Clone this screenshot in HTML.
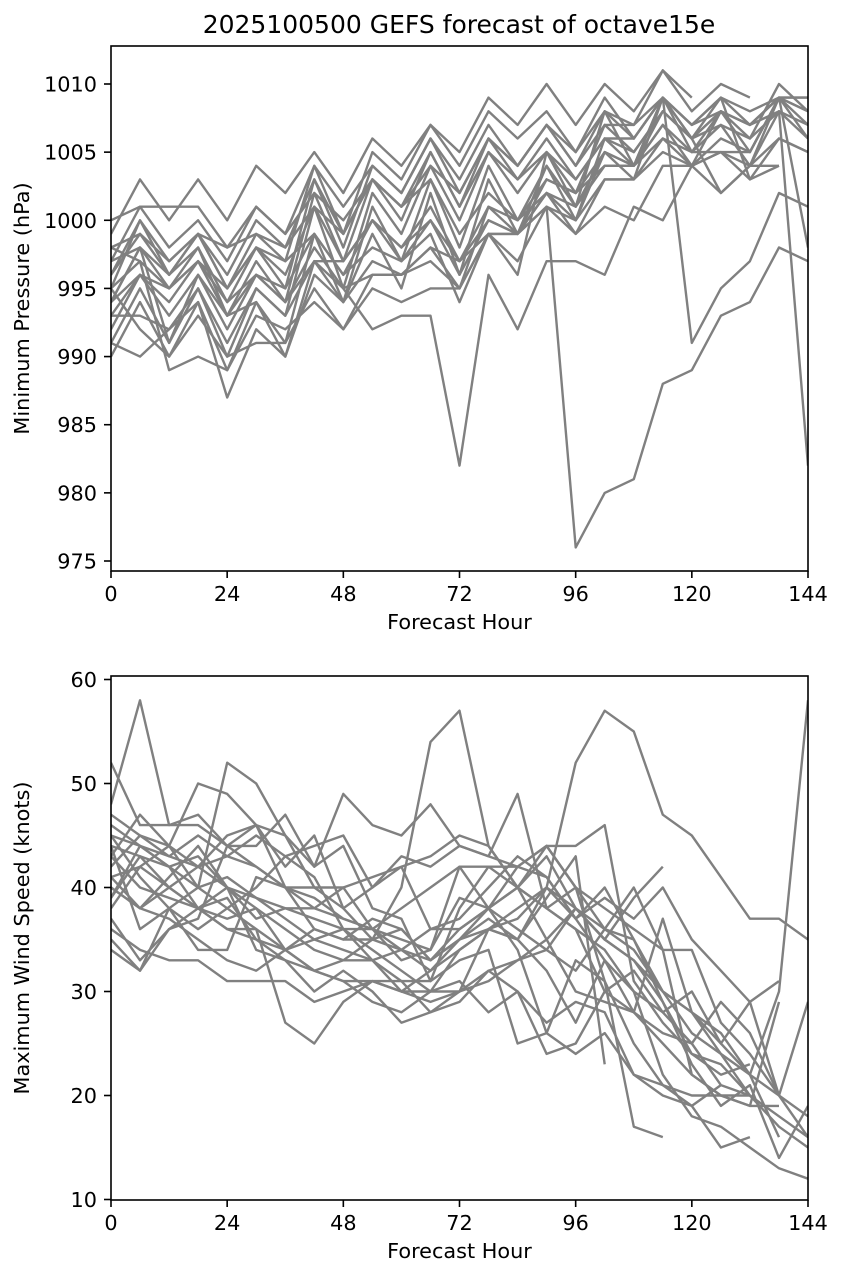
<!DOCTYPE html>
<html><head><meta charset="utf-8"><style>
body{margin:0;background:#fff;}
svg text{font-family:"DejaVu Sans","Liberation Sans",sans-serif;fill:#000;}
</style></head><body>
<svg id="chart" width="843" height="1279" xmlns="http://www.w3.org/2000/svg">
<text x="459" y="33" font-size="25" text-anchor="middle">2025100500 GEFS forecast of octave15e</text>
<g id="top"></g>
<g id="bot"></g>
</svg>
<script>
const hours=[0,6,12,18,24,30,36,42,48,54,60,66,72,78,84,90,96,102,108,114,120,126,132,138,144];
const xTicks=[0,24,48,72,96,120,144];
const pTicks=[975,980,985,990,995,1000,1005,1010];
const wTicks=[10,20,30,40,50,60];
const N=null;
const pressure=[
[999,1003,1000,1003,1000,1004,1002,1005,1002,1006,1004,1007,1005,1009,1007,1010,1007,1010,1008,1011,1009,N,N,N,N],
[1000,1001,1001,1001,998,1001,999,1002,1000,1003,1001,1004,1002,1006,1004,1007,1005,1008,1007,1011,1008,1010,1009,N,N],
[995,1000,996,999,995,999,997,1004,999,1005,1003,1007,1004,1008,1006,1008,1005,1009,1006,1009,1007,1009,1007,1009,1008],
[994,998,995,998,994,998,995,1003,998,1004,1002,1006,1003,1007,1004,1007,1004,1007,1005,1008,1006,1008,1006,1010,1008],
[993,996,993,996,992,996,994,1002,997,1003,1000,1005,1001,1006,1003,1005,1003,1006,1004,1007,1004,1008,1005,1009,1009],
[991,995,991,995,990,995,993,1001,995,1002,999,1004,1000,1005,1002,1005,1002,1005,1003,1006,1005,1007,1004,1008,1007],
[990,994,990,994,989,994,991,999,994,1001,997,1003,998,1004,1000,1004,1001,1004,1004,1009,1006,1009,1003,1006,1005],
[991,990,992,994,987,992,990,997,994,999,995,1002,996,1003,999,1002,1000,1003,1003,1009,1005,1005,1004,1009,1007],
[995,992,990,993,990,991,991,995,992,995,994,995,995,999,996,1005,1001,1008,1004,1009,1007,1008,1007,1009,1006],
[998,997,989,990,989,993,992,994,992,996,996,998,997,999,999,1004,1000,1005,1004,1008,1006,1002,1004,1004,N],
[994,996,994,997,993,997,994,998,995,992,993,993,982,996,992,997,997,996,1001,1000,1004,1005,1005,1009,1008],
[995,997,995,997,994,996,994,997,995,996,996,997,995,999,999,1001,976,980,981,988,989,993,994,998,997],
[997,998,996,999,995,998,996,1001,997,1000,998,1001,997,1000,999,1002,1001,1005,1004,1007,1005,1008,1007,1008,982],
[996,1000,997,999,996,1000,998,1003,999,1003,1001,1005,1001,1005,1003,1006,1003,1006,1006,1009,991,995,997,1002,1001],
[997,1001,998,1000,997,1001,999,1004,1001,1004,1002,1006,1002,1006,1004,1007,1004,1008,1006,1009,1007,1009,1008,1009,998],
[998,999,997,999,998,999,998,1001,999,1003,1001,1003,999,1002,1000,1002,999,1003,1003,1005,1004,1002,1004,1006,1005],
[994,998,991,996,993,994,990,996,994,997,996,998,995,1001,999,1003,1002,1007,1007,1009,1006,1008,1007,1009,N],
[993,993,992,995,991,995,993,997,997,1000,998,1000,997,1001,1000,1003,1002,1004,1004,1006,1004,1005,1003,1004,N],
[992,996,995,997,995,998,997,999,996,998,997,1000,996,1000,999,1001,999,1001,1000,1004,1004,1006,1005,1009,1009],
[996,999,996,998,993,996,995,999,996,1000,997,999,994,999,997,1001,1000,1006,1005,1008,1006,1007,1006,1008,1006]
];
const wind=[
[48,58,46,46,44,42,40,38,37,36,38,40,42,42,40,38,40,36,34,30,26,24,22,20,18],
[44,43,40,42,40,38,36,34,33,35,40,54,57,44,40,38,36,30,28,25,22,20,20,N,N],
[40,38,40,38,36,36,34,32,31,31,30,32,34,36,38,40,52,57,55,47,45,41,37,37,35],
[36,34,33,33,31,31,31,29,30,31,30,30,30,32,33,34,38,35,33,30,28,25,22,30,58],
[42,45,44,50,49,46,45,40,38,35,34,33,35,38,42,44,40,38,36,34,22,20,19,19,N],
[46,44,42,40,52,50,45,42,49,46,45,48,44,43,49,38,36,34,30,22,18,17,15,13,12],
[52,46,46,47,44,46,40,39,37,36,34,32,35,36,37,40,37,40,35,30,28,26,22,16,N],
[35,32,38,40,41,39,38,38,40,41,42,43,45,44,40,35,30,29,28,26,25,21,20,17,15],
[45,44,43,45,43,42,40,36,35,35,36,33,36,38,40,44,44,46,31,27,24,23,20,N,N],
[38,42,44,40,38,36,27,25,29,31,31,28,29,32,30,27,29,28,22,20,19,15,16,N,N],
[41,42,40,38,36,35,33,32,33,33,30,29,30,31,33,35,38,36,40,34,34,27,24,20,16],
[43,40,39,38,39,35,34,35,36,36,33,34,42,38,36,34,32,36,35,29,23,19,21,14,19],
[37,33,36,37,44,44,47,42,44,38,37,31,38,42,42,41,37,33,30,28,25,29,26,20,29],
[44,36,38,34,34,41,40,40,40,36,35,34,39,38,34,26,24,26,22,21,20,20,19,29,N],
[34,32,36,38,37,38,34,32,31,29,28,30,34,36,35,40,38,35,33,29,24,22,23,N,N],
[47,45,43,42,43,45,43,44,45,40,43,42,44,43,42,44,40,31,25,21,19,21,N,N,N],
[40,38,41,44,40,39,37,35,34,33,31,31,33,34,25,26,33,31,17,16,N,N,N,N,N],
[45,41,38,36,38,40,43,41,36,34,32,30,31,28,30,24,25,30,32,28,30,25,29,31,N],
[39,43,42,38,40,34,33,30,32,30,27,28,30,36,35,39,43,23,N,N,N,N,N,N,N],
[41,38,37,35,33,32,34,36,35,37,36,33,35,37,35,32,27,33,28,37,28,24,20,18,16],
[43,47,44,42,45,46,42,45,38,40,42,36,37,40,43,41,37,39,37,40,35,32,29,20,N],
[39,44,42,43,40,37,38,37,36,33,34,36,36,38,40,43,38,35,39,42,N,N,N,N,N]
];
const NS="http://www.w3.org/2000/svg";
function mk(t,a,p){const e=document.createElementNS(NS,t);for(const k in a)e.setAttribute(k,a[k]);p.appendChild(e);return e;}
const X0=111,X1=808;
function xs(h){return X0+(h/144)*(X1-X0);}
function panel(g,yTop,yBot,vLo,pLo,vHi,pHi,ticks,series,ylabel,pfx){
  const ys=v=>pLo+(v-vLo)*(pHi-pLo)/(vHi-vLo);
  const cp=mk('clipPath',{id:'c'+pfx},g);mk('rect',{x:X0,y:yTop,width:X1-X0,height:yBot-yTop},cp);
  const lg=mk('g',{'clip-path':'url(#c'+pfx+')'},g);
  series.forEach((s,i)=>{
    let d='';let pen=false;
    s.forEach((v,j)=>{if(v===null){pen=false;return;}d+=(pen?'L':'M')+xs(hours[j]).toFixed(1)+' '+ys(v).toFixed(1);pen=true;});
    const p=mk('path',{d:d,fill:'none',stroke:'#808080','stroke-width':2.4,'stroke-linejoin':'round'},lg);
    
    
  });
  const r=mk('rect',{x:X0,y:yTop,width:X1-X0,height:yBot-yTop,fill:'none',stroke:'#000','stroke-width':1.6},g);
  
  
  ticks.forEach(v=>{const y=ys(v);mk('line',{x1:X0-7,x2:X0,y1:y,y2:y,stroke:'#000','stroke-width':1.6},g);
    const t=mk('text',{x:X0-14,y:y+7.5,'font-size':20.8,'text-anchor':'end'},g);t.textContent=v;
    
    });
  xTicks.forEach(h=>{const x=xs(h);mk('line',{x1:x,x2:x,y1:yBot,y2:yBot+7,stroke:'#000','stroke-width':1.6},g);
    const t=mk('text',{x:x,y:yBot+30,'font-size':20.8,'text-anchor':'middle'},g);t.textContent=h;
    
    });
  const xl=mk('text',{x:(X0+X1)/2,y:yBot+58,'font-size':20.8,'text-anchor':'middle'},g);xl.textContent='Forecast Hour';
  
  
  const cy=(yTop+yBot)/2;
  const yl=mk('text',{x:29,y:cy,'font-size':20.8,'text-anchor':'middle',transform:'rotate(-90 29 '+cy+')'},g);yl.textContent=ylabel;
  
  
}
panel(document.getElementById('top'),46,571,975,561,1010,84,pTicks,pressure,'Minimum Pressure (hPa)','pressure');
panel(document.getElementById('bot'),676,1200,10,1199.5,60,679.5,wTicks,wind,'Maximum Wind Speed (knots)','wind');
</script>
</body></html>
